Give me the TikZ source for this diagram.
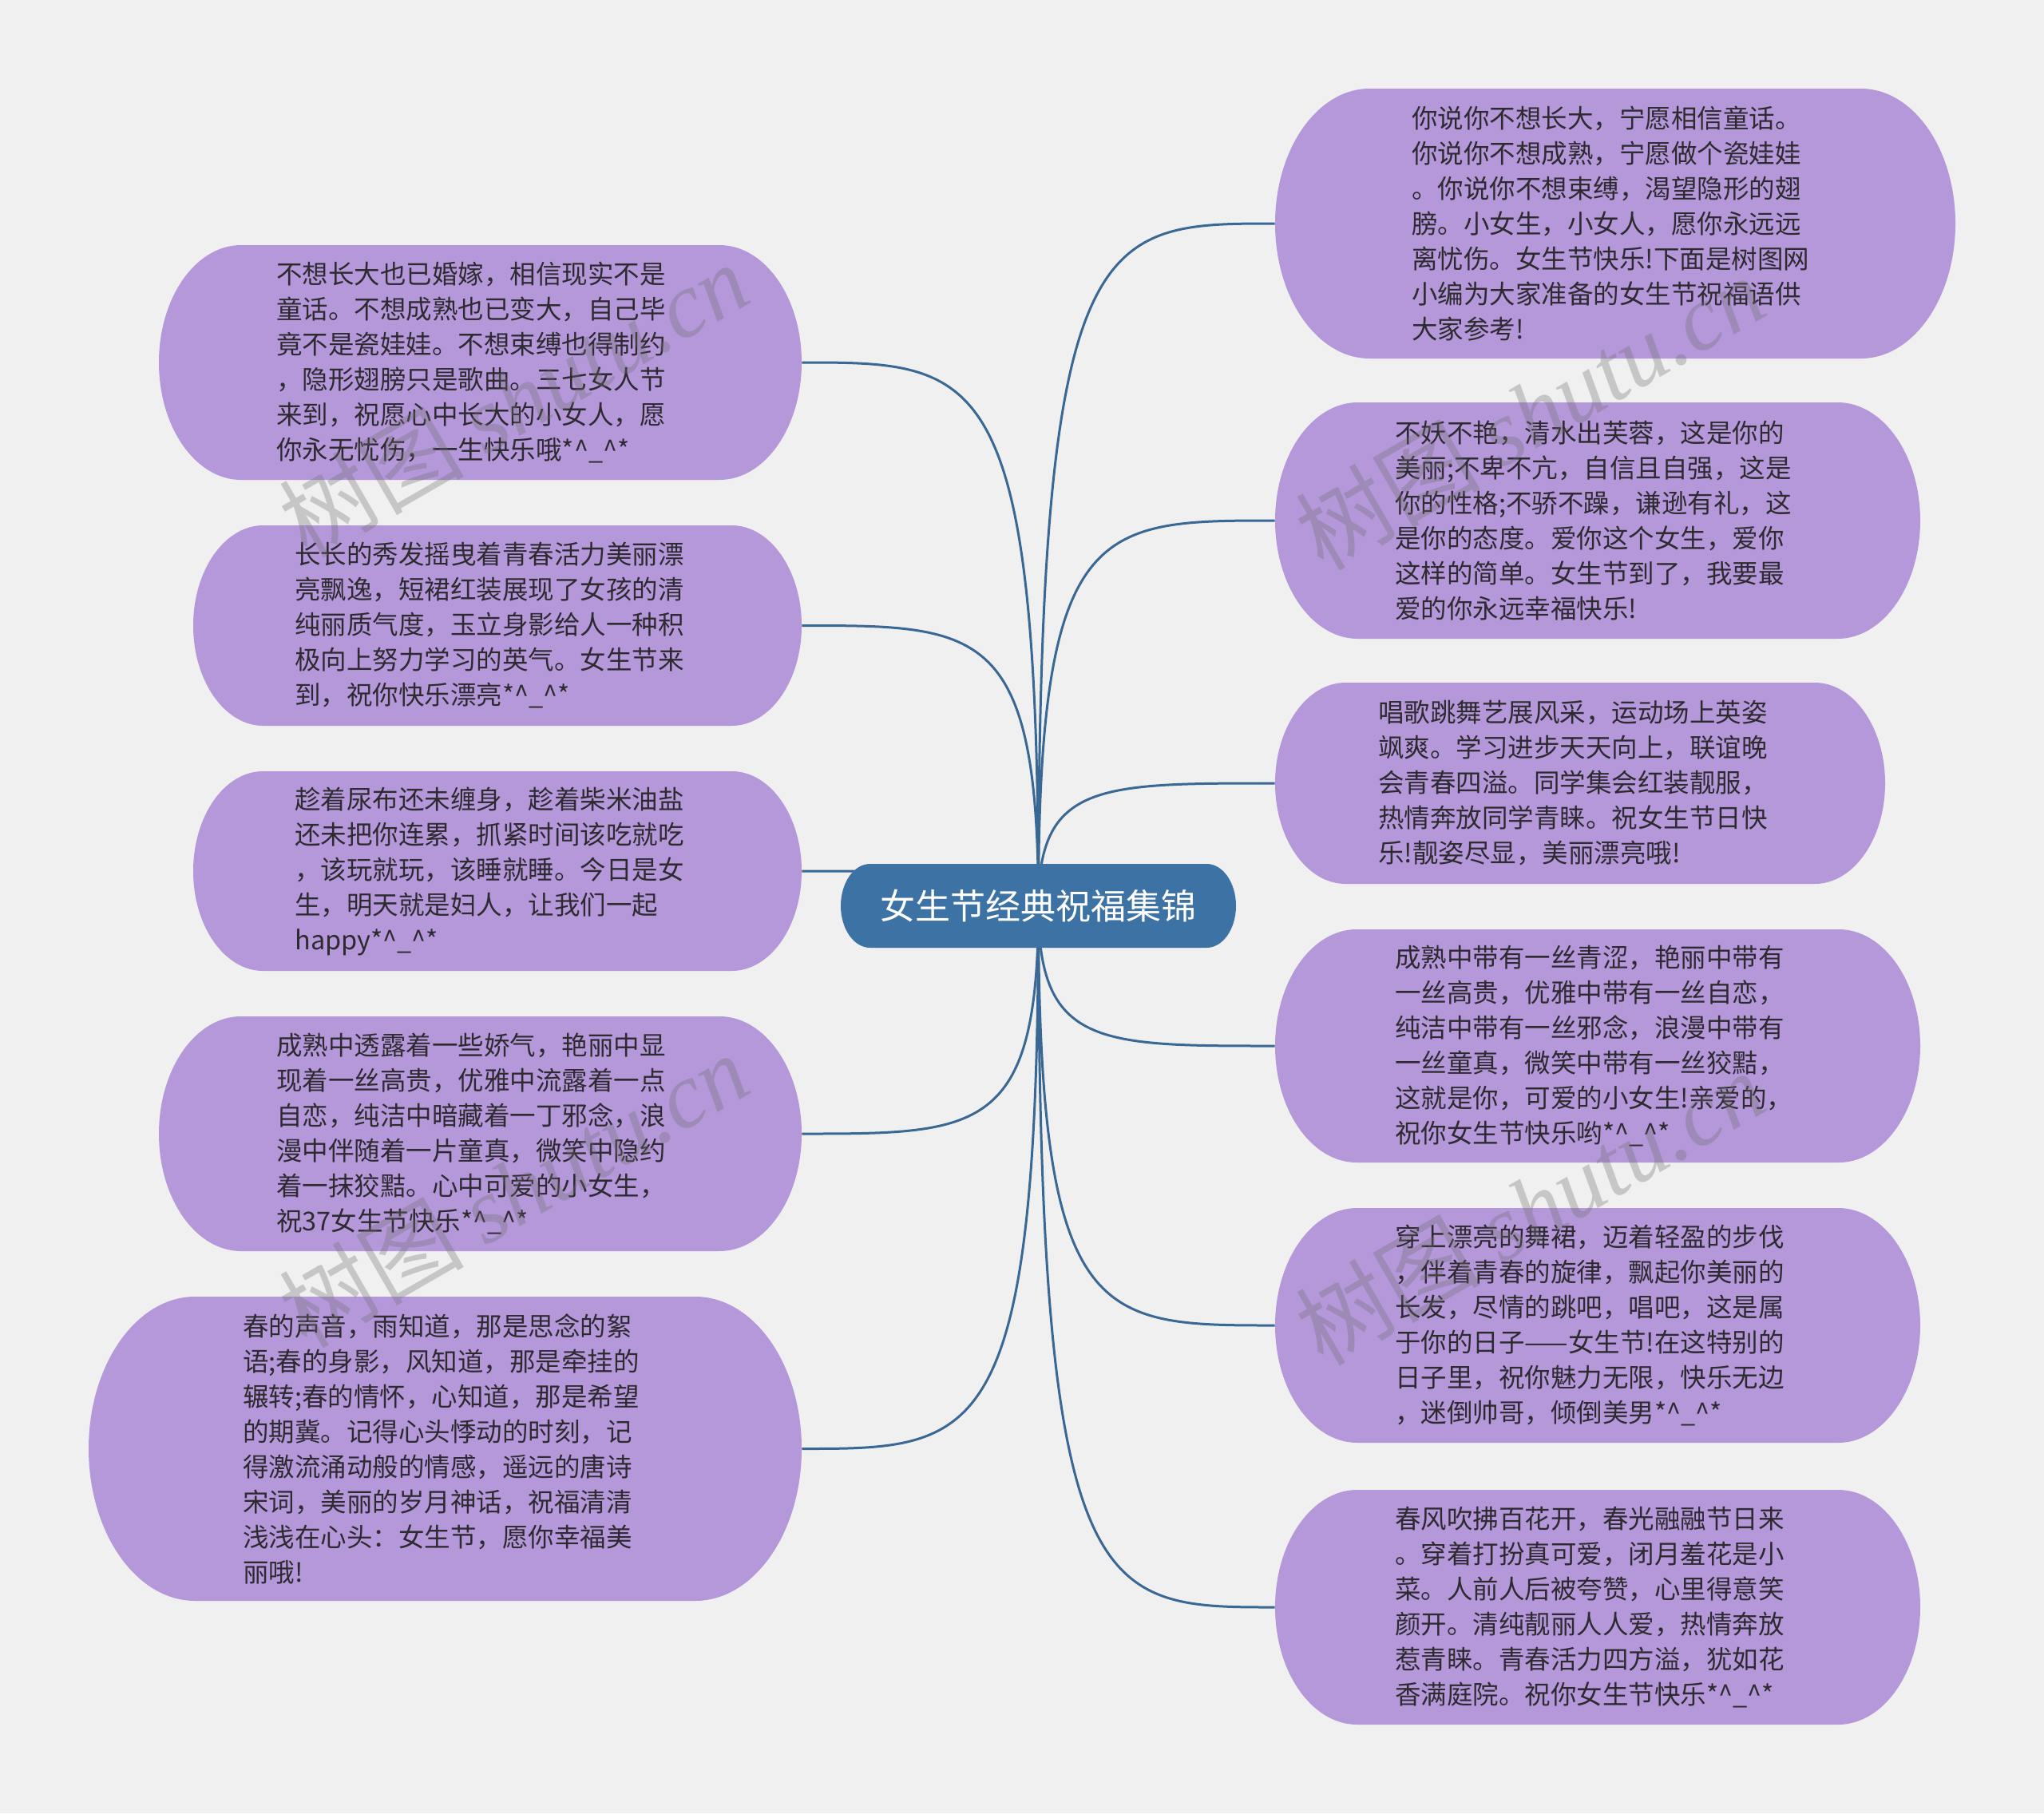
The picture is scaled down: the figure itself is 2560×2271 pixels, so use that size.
\documentclass[tikz,border=0pt]{standalone}
\usepackage{fontspec}
\setmainfont{Noto Sans CJK SC}
\newfontfamily\wmfont{Liberation Serif}
\usetikzlibrary{calc}
\definecolor{bgc}{RGB}{240,240,240}
\definecolor{purp}{RGB}{180,152,218}
\definecolor{bluec}{RGB}{61,114,164}
\definecolor{linec}{RGB}{58,104,148}
\definecolor{txtc}{RGB}{45,42,48}
\definecolor{wmc}{RGB}{110,110,110}
\pgfdeclarelayer{bglayer}
\pgfdeclarelayer{edges}
\pgfdeclarelayer{shapes}
\pgfsetlayers{bglayer,edges,shapes,main}
% #1 x1, #2 y1, #3 x2, #4 y2, #5 fill
\newcommand\mmshape[5]{%
  \pgfmathsetmacro\pbRy{(#4-#2)/2}%
  \pgfmathsetmacro\pbRx{0.7*\pbRy}%
  \pgfmathsetmacro\pbYm{(#2+#4)/2}%
  \pgfmathsetmacro\pbXm{(#1+#3)/2}%
  \pgfmathsetmacro\pbKx{0.5523*\pbRx}%
  \pgfmathsetmacro\pbKy{0.5523*\pbRy}%
  \pgfmathsetmacro\pbW{(#3-#1)/2}%
  \pgfmathsetmacro\pbH{(#4-#2)/2}%
  \begin{pgfonlayer}{shapes}
    \fill[#5] ({#1+\pbRx},#2) -- ({#3-\pbRx},#2)
      .. controls ({#3-\pbRx+\pbKx},#2) and (#3,{\pbYm-\pbKy}) .. (#3,\pbYm)
      .. controls (#3,{\pbYm+\pbKy}) and ({#3-\pbRx+\pbKx},#4) .. ({#3-\pbRx},#4)
      -- ({#1+\pbRx},#4)
      .. controls ({#1+\pbRx-\pbKx},#4) and (#1,{\pbYm+\pbKy}) .. (#1,\pbYm)
      .. controls (#1,{\pbYm-\pbKy}) and ({#1+\pbRx-\pbKx},#2) .. cycle;
  \end{pgfonlayer}%
}
% #1 name, #2 x1, #3 y1, #4 x2, #5 y2, #6 fill, #7 text x, #8 text
\newcommand\mmnode[8]{%
  \mmshape{#2}{#3}{#4}{#5}{#6}%
  \node[boxarea, minimum width=\pbW pt, minimum height=\pbH pt] (#1) at (\pbXm,\pbYm) {};%
  \node[boxtext, anchor=west] (#1t) at (#7,\pbYm) {#8};%
}
\newcommand\hh{*\textasciicircum\_\textasciicircum*}
\newcommand\wmtext{树图 {\wmfont\itshape shutu.cn}}
\begin{document}
\begin{tikzpicture}[x=0.5pt,y=-0.5pt,
  boxarea/.style={rectangle, inner sep=0pt, draw=none},
  boxtext/.style={rectangle, inner sep=0pt, align=left, text=txtc,
    font=\fontsize{16.25}{22}\selectfont},
  titletext/.style={rectangle, inner sep=0pt, align=center, text=white,
    font=\fontsize{22}{26}\selectfont},
  conn/.style={draw=linec, line width=1.5pt},
  wm/.style={text=wmc, opacity=0.32, font=\fontsize{58}{62}\selectfont,
    inner sep=0pt, rotate=30}]
\begin{pgfonlayer}{bglayer}
\fill[bgc] (0,0) rectangle (2560,2271);
\end{pgfonlayer}
\useasboundingbox (0,0) rectangle (2560,2271);

\mmshape{1053}{1082}{1548}{1187}{bluec}
\node[titletext, minimum width=\pbW pt, minimum height=\pbH pt] (c) at (\pbXm,\pbYm) {女生节经典祝福集锦};

\mmnode{L1}{199}{307}{1004}{601}{purp}{346}{不想长大也已婚嫁，相信现实不是\\童话。不想成熟也已变大，自己毕\\竟不是瓷娃娃。不想束缚也得制约\\，隐形翅膀只是歌曲。三七女人节\\来到，祝愿心中长大的小女人，愿\\你永无忧伤，一生快乐哦\hh}
\mmnode{L2}{242}{658}{1004}{909}{purp}{369}{长长的秀发摇曳着青春活力美丽漂\\亮飘逸，短裙红装展现了女孩的清\\纯丽质气度，玉立身影给人一种积\\极向上努力学习的英气。女生节来\\到，祝你快乐漂亮\hh}
\mmnode{L3}{242}{966}{1004}{1216}{purp}{369}{趁着尿布还未缠身，趁着柴米油盐\\还未把你连累，抓紧时间该吃就吃\\，该玩就玩，该睡就睡。今日是女\\生，明天就是妇人，让我们一起\\happy\hh}
\mmnode{L4}{199}{1273}{1004}{1567}{purp}{346}{成熟中透露着一些娇气，艳丽中显\\现着一丝高贵，优雅中流露着一点\\自恋，纯洁中暗藏着一丁邪念，浪\\漫中伴随着一片童真，微笑中隐约\\着一抹狡黠。心中可爱的小女生，\\祝37女生节快乐\hh}
\mmnode{L5}{111}{1624}{1004}{2005}{purp}{304}{春的声音，雨知道，那是思念的絮\\语;春的身影，风知道，那是牵挂的\\辗转;春的情怀，心知道，那是希望\\的期冀。记得心头悸动的时刻，记\\得激流涌动般的情感，遥远的唐诗\\宋词，美丽的岁月神话，祝福清清\\浅浅在心头：女生节，愿你幸福美\\丽哦!}

\mmnode{R1}{1597}{111}{2449}{449}{purp}{1768}{你说你不想长大，宁愿相信童话。\\你说你不想成熟，宁愿做个瓷娃娃\\。你说你不想束缚，渴望隐形的翅\\膀。小女生，小女人，愿你永远远\\离忧伤。女生节快乐!下面是树图网\\小编为大家准备的女生节祝福语供\\大家参考!}
\mmnode{R2}{1597}{504}{2405}{800}{purp}{1747}{不妖不艳，清水出芙蓉，这是你的\\美丽;不卑不亢，自信且自强，这是\\你的性格;不骄不躁，谦逊有礼，这\\是你的态度。爱你这个女生，爱你\\这样的简单。女生节到了，我要最\\爱的你永远幸福快乐!}
\mmnode{R3}{1597}{855}{2361}{1107}{purp}{1726}{唱歌跳舞艺展风采，运动场上英姿\\飒爽。学习进步天天向上，联谊晚\\会青春四溢。同学集会红装靓服，\\热情奔放同学青睐。祝女生节日快\\乐!靓姿尽显，美丽漂亮哦!}
\mmnode{R4}{1597}{1164}{2405}{1456}{purp}{1747}{成熟中带有一丝青涩，艳丽中带有\\一丝高贵，优雅中带有一丝自恋，\\纯洁中带有一丝邪念，浪漫中带有\\一丝童真，微笑中带有一丝狡黠，\\这就是你，可爱的小女生!亲爱的，\\祝你女生节快乐哟\hh}
\mmnode{R5}{1597}{1513}{2405}{1807}{purp}{1747}{穿上漂亮的舞裙，迈着轻盈的步伐\\，伴着青春的旋律，飘起你美丽的\\长发，尽情的跳吧，唱吧，这是属\\于你的日子——女生节!在这特别的\\日子里，祝你魅力无限，快乐无边\\，迷倒帅哥，倾倒美男\hh}
\mmnode{R6}{1597}{1866}{2405}{2160}{purp}{1747}{春风吹拂百花开，春光融融节日来\\。穿着打扮真可爱，闭月羞花是小\\菜。人前人后被夸赞，心里得意笑\\颜开。清纯靓丽人人爱，热情奔放\\惹青睐。青春活力四方溢，犹如花\\香满庭院。祝你女生节快乐\hh}

\newcommand\linkto[2]{\draw[conn] (c.center) .. controls (c.center |- #1.#2) and ($(c.center |- #1.#2)!0.25!(#1.#2)$) .. (#1.#2);}
\begin{pgfonlayer}{edges}
\linkto{L1}{east}
\linkto{L2}{east}
\linkto{L3}{east}
\linkto{L4}{east}
\linkto{L5}{east}
\linkto{R1}{west}
\linkto{R2}{west}
\linkto{R3}{west}
\linkto{R4}{west}
\linkto{R5}{west}
\linkto{R6}{west}
\end{pgfonlayer}

\node[wm] (wm1) at (643,500) {\wmtext};
\node[wm] (wm2) at (643,1490) {\wmtext};
\node[wm] (wm3) at (1916,516) {\wmtext};
\node[wm] (wm4) at (1916,1512) {\wmtext};
\end{tikzpicture}
\end{document}
